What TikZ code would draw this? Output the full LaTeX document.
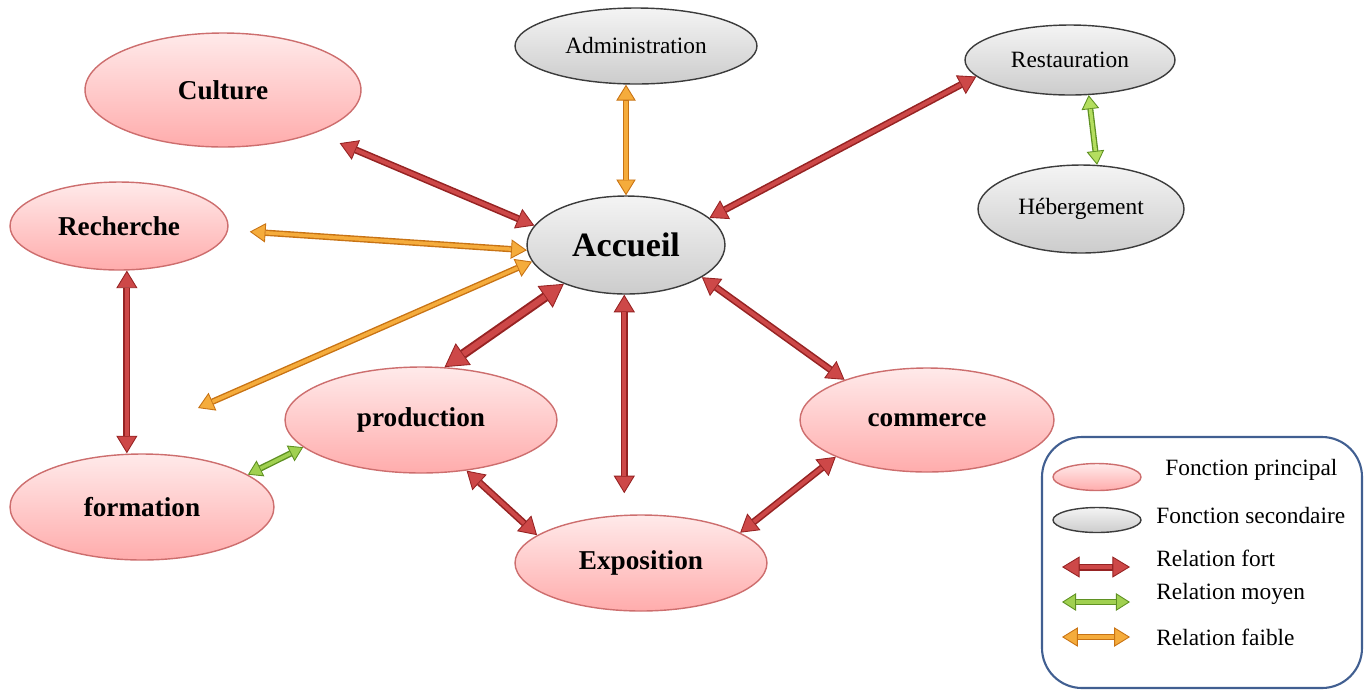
\documentclass[tikz,border=0pt]{standalone}
\usepackage{fontspec}
\setmainfont{Liberation Serif}
\usetikzlibrary{shapes.geometric,arrows.meta}
\definecolor{pinkT}{RGB}{255,234,234}
\definecolor{pinkB}{RGB}{255,172,172}
\definecolor{pinkD}{RGB}{205,110,110}
\definecolor{grayT}{RGB}{244,244,244}
\definecolor{grayB}{RGB}{204,204,204}
\definecolor{grayD}{RGB}{60,60,60}
\definecolor{redD}{RGB}{150,35,35}
\definecolor{redL}{RGB}{205,72,72}
\definecolor{orD}{RGB}{200,115,20}
\definecolor{orL}{RGB}{245,172,60}
\definecolor{grD}{RGB}{95,145,35}
\definecolor{grL}{RGB}{160,208,80}
\definecolor{grL2}{RGB}{180,222,95}
\definecolor{legD}{RGB}{65,95,145}
\tikzset{
  pe/.style={ellipse, draw=pinkD, line width=0.8pt, top color=pinkT, bottom color=pinkB, inner sep=0pt,
    font=\fontsize{15.5}{18}\selectfont\bfseries},
  se/.style={ellipse, draw=grayD, line width=0.8pt, top color=grayT, bottom color=grayB, inner sep=0pt,
    font=\fontsize{13.3}{16}\selectfont},
  legtxt/.style={anchor=west, inner sep=0pt, font=\fontsize{13.3}{16}\selectfont},
  rel/.style n args={6}{draw=#1, line width=#3,
    {Triangle[length=#5,width=#6,fill=#2,line width=0.5pt]}-{Triangle[length=#5,width=#6,fill=#2,line width=0.5pt]},
    postaction={draw=#2, line width=#4, shorten <=#5, shorten >=#5, -}},
  fort/.style={rel={redD}{redL}{4pt}{2.2pt}{10pt}{12pt}},
  fortplus/.style={rel={redD}{redL}{5.6pt}{3.4pt}{13pt}{15pt}},
  moyen/.style={rel={grD}{grL}{3.6pt}{2pt}{8pt}{10pt}},
  moyenclair/.style={rel={grD}{grL2}{3.4pt}{1.9pt}{8pt}{10pt}},
  faible/.style={rel={orD}{orL}{3.6pt}{2pt}{9pt}{11pt}},
}
\begin{document}
\begin{tikzpicture}[x=0.02cm,y=-0.02cm]
\useasboundingbox (0,0) rectangle (1369,691);
% principal functions
\node[pe, minimum width=5.52cm, minimum height=2.28cm] (culture) at (223,90) {Culture};
\node[pe, minimum width=4.36cm, minimum height=1.76cm] (rech) at (119,226) {Recherche};
\node[pe, minimum width=5.44cm, minimum height=2.12cm] (prod) at (421,420) {production};
\node[pe, minimum width=5.08cm, minimum height=2.08cm] (comm) at (927,420) {commerce};
\node[pe, minimum width=5.28cm, minimum height=2.12cm] (form) at (142,507) {formation};
\node[pe, minimum width=5.04cm, minimum height=1.92cm] (expo) at (641,563) {Exposition};
% secondary functions
\node[se, minimum width=4.84cm, minimum height=1.52cm] (adm) at (636,46) {Administration};
\node[se, minimum width=4.20cm, minimum height=1.40cm] (rest) at (1070,60) {Restauration};
\node[se, minimum width=4.12cm, minimum height=1.76cm] (heb) at (1081,209) {Hébergement};
\node[se, minimum width=3.96cm, minimum height=1.96cm, font=\fontsize{19.4}{22}\selectfont\bfseries] (acc) at (626,245) {Accueil};
% connectors
\coordinate (free) at (198,408);
\draw[fort] ([shift={(22,11)}]culture.-24) -- (acc.168);
\draw[faible] (acc.north) -- (acc.north |- adm.south);
\draw[fort] (rest.190) -- (acc.18);
\draw[moyenclair] (rest.-62) -- (heb.70);
\draw[faible] ([shift={(22,0)}]rech.-3) -- (acc.183);
\draw[faible] (free) -- (acc.190);
\draw[fortplus] (acc.212) -- (prod.66);
\draw[fort] (acc.-92) -- ([yshift=12pt]acc.-92 |- expo.north);
\draw[fort] (acc.-23) -- (comm.154);
\draw[fort] (rech.-80) -- (rech.-80 |- form.north);
\draw[moyen] (form.17) -- (prod.193);
\draw[fort] (prod.-48) -- (expo.165);
\draw[fort] (comm.202) -- (expo.17);
% legend
\draw[legD, line width=1.2pt, rounded corners=0.8cm] (1042,437) rectangle (1362,688);
\node[pe, minimum width=1.76cm, minimum height=0.54cm] (lp) at (1097,477) {};
\node[se, minimum width=1.76cm, minimum height=0.5cm] (ls) at (1097,520) {};
\node[legtxt] (t1) at (1165,470) {Fonction principal};
\node[legtxt] (t2) at (1156,515) {Fonction secondaire};
\node[legtxt] (t3) at (1156,558) {Relation fort};
\node[legtxt] (t4) at (1156,594) {Relation moyen};
\node[legtxt] (t5) at (1156,637) {Relation faible};
\coordinate (f1) at (1062,567); \coordinate (f2) at (1130,567);
\coordinate (m1) at (1062,602); \coordinate (m2) at (1130,602);
\coordinate (o1) at (1062,637); \coordinate (o2) at (1130,637);
\draw[fort] (f1) -- (f2);
\draw[moyen] (m1) -- (m2);
\draw[faible] (o1) -- (o2);
\end{tikzpicture}
\end{document}
